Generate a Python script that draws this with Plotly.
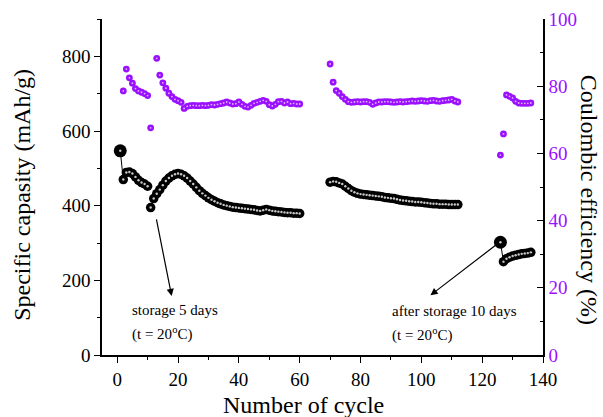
import plotly.graph_objects as go

# ---------------- data ----------------
cyc_s1 = list(range(1, 11))
cap_s1 = [547, 470, 489, 490, 486, 477, 468, 462, 458, 452]

cyc_s2 = list(range(11, 61))
cap_s2 = [395, 419, 432, 443, 455, 466, 474, 480, 484, 486,
          484, 480, 474, 466, 458, 449, 440, 433, 427, 421,
          416, 412, 408, 405, 402, 400, 398, 396, 395, 394,
          393, 392, 391, 390, 389, 387, 386, 388, 390, 388,
          386, 385, 384, 383, 382, 381, 381, 380, 380, 379]

cyc_s3 = list(range(70, 113))
cap_s3 = [463, 465, 464, 461, 458, 452, 446, 440, 436, 433,
          431, 430, 429, 428, 427, 426, 425, 424, 422, 421,
          420, 419, 417, 415, 414, 413, 412, 411, 410, 410,
          409, 408, 407, 406, 405, 405, 404, 404, 404, 403,
          403, 403, 403]

cyc_s4 = list(range(126, 137))
cap_s4 = [302, 250, 258, 262, 265, 267, 269, 271, 272, 273, 275]

ce_cyc_s1 = list(range(2, 11))
ce_s1 = [78.6, 85.1, 82.5, 80.9, 79.3, 78.6, 78.2, 77.8, 77.2]

ce_cyc_s2 = list(range(11, 61))
ce_s2 = [67.6, None, 88.3, 83.3, 81.0, 79.4, 77.9, 76.9, 76.1, 75.7,
         75.2, 73.4, 74.0, 74.2, 74.3, 74.2, 74.2, 74.3, 74.2, 74.3,
         74.5, 74.4, 74.6, 74.8, 75.0, 75.3, 75.0, 74.7, 74.8, 75.3,
         74.6, 74.0, 73.8, 74.3, 74.9, 75.2, 75.5, 75.8, 75.5, 74.5,
         74.1, 74.6, 75.4, 75.5, 75.0, 75.3, 74.8, 74.9, 74.7, 74.7]

ce_cyc_s3 = list(range(70, 113))
ce_s3 = [86.6, 81.2, 78.7, 77.9, 76.9, 76.1, 75.4, 75.2, 75.3, 75.4,
         75.3, 75.4, 75.4, 75.2, 74.6, 75.0, 75.3, 75.3, 75.4, 75.4,
         75.3, 75.2, 75.3, 75.4, 75.3, 75.4, 75.5, 75.6, 75.5, 75.6,
         75.7, 75.6, 75.5, 75.7, 75.8, 75.6, 75.5, 75.7, 75.8, 75.9,
         76.1, 75.6, 75.3]

ce_cyc_s4 = list(range(126, 137))
ce_s4 = [59.5, 65.8, 77.4, 77.0, 76.5, 75.5, 75.0, 74.9, 74.9, 74.9, 75.0]

x_ticks = [0, 20, 40, 60, 80, 100, 120, 140]
cap_ticks = [0, 200, 400, 600, 800]
ce_ticks = [0, 20, 40, 60, 80, 100]

# ---------------- build ----------------
def join(segs):
    out = []
    for i, s in enumerate(segs):
        if i:
            out.append(None)
        out.extend(s)
    return out

cap_x = join([cyc_s1, cyc_s2, cyc_s3, cyc_s4])
cap_y = join([cap_s1, cap_s2, cap_s3, cap_s4])
ce_x = join([ce_cyc_s1, ce_cyc_s2, ce_cyc_s3, ce_cyc_s4])
ce_y = join([ce_s1, ce_s2, ce_s3, ce_s4])

# the two "reference" (first-after-rest) points are drawn larger
big_x = [cyc_s1[0], cyc_s4[0]]
big_y = [cap_s1[0], cap_s4[0]]

FONT = "Liberation Serif, Times New Roman, serif"
PURPLE = "#9A10FF"

fig = go.Figure()
fig.add_trace(go.Scatter(
    x=cap_x, y=cap_y, mode="lines+markers", connectgaps=False,
    line=dict(color="black", width=1),
    marker=dict(color="black", size=9.5, line=dict(width=0)),
    hoverinfo="skip", showlegend=False))
fig.add_trace(go.Scatter(
    x=big_x, y=big_y, mode="markers",
    marker=dict(color="black", size=13, line=dict(width=0)),
    hoverinfo="skip", showlegend=False))
fig.add_trace(go.Scatter(
    x=cap_x, y=cap_y, mode="markers",
    marker=dict(color="#c8c8c8", size=2.4, line=dict(width=0)),
    hoverinfo="skip", showlegend=False))
fig.add_trace(go.Scatter(
    x=ce_x, y=ce_y, mode="markers", yaxis="y2",
    marker=dict(color=PURPLE, size=6.8, line=dict(width=0)),
    hoverinfo="skip", showlegend=False))
fig.add_trace(go.Scatter(
    x=ce_x, y=ce_y, mode="markers", yaxis="y2",
    marker=dict(color="#dcb0ff", size=1.8, line=dict(width=0)),
    hoverinfo="skip", showlegend=False))

axis_common = dict(showgrid=False, zeroline=False, showline=True,
                   linecolor="black", linewidth=1.5,
                   tickcolor="black", tickwidth=1.2)

fig.update_layout(
    width=603, height=417,
    margin=dict(l=102, r=60, t=19, b=62, autoexpand=False),
    paper_bgcolor="white", plot_bgcolor="white",
    font=dict(family=FONT, color="black", size=19),
    xaxis=dict(range=[-5, 140], tickvals=x_ticks, ticks="outside", ticklen=6,
               minor=dict(dtick=10, tick0=0, ticks="outside", ticklen=3,
                          tickcolor="black", tickwidth=1.2),
               tickfont=dict(size=19), **axis_common),
    xaxis2=dict(range=[-5, 140], matches="x", overlaying="x", side="top",
                anchor="y", tickvals=x_ticks, ticks="inside", ticklen=6,
                showticklabels=False,
                minor=dict(dtick=10, tick0=0, ticks="inside", ticklen=3,
                           tickcolor="black", tickwidth=1.2),
                **axis_common),
    yaxis=dict(range=[0, 900], tickvals=cap_ticks, ticks="outside", ticklen=6,
               minor=dict(dtick=100, tick0=0, ticks="outside", ticklen=3,
                          tickcolor="black", tickwidth=1.2),
               tickfont=dict(size=19), **axis_common),
    yaxis2=dict(range=[0, 100], tickvals=ce_ticks, overlaying="y", side="right",
                anchor="x", ticks="inside", ticklen=6,
                minor=dict(dtick=10, tick0=0, ticks="inside", ticklen=3,
                           tickcolor="black", tickwidth=1.2),
                tickfont=dict(size=19, color=PURPLE), **axis_common),
)

ann = [
    dict(text="Number of cycle", xref="paper", yref="paper", x=0.457, y=-0.149,
         xanchor="center", yanchor="middle", showarrow=False,
         font=dict(size=24, family=FONT)),
    dict(text="Specific capasity (mAh/g)", xref="paper", yref="paper",
         x=-0.182, y=0.476, xanchor="center", yanchor="middle", textangle=-90,
         showarrow=False, font=dict(size=24, family=FONT)),
    dict(text="Coulombic efficiency (%)", xref="paper", yref="paper",
         x=1.105, y=0.461, xanchor="center", yanchor="middle", textangle=90,
         showarrow=False, font=dict(size=24, family=FONT)),
    dict(text="storage 5 days", xref="x", yref="y", x=4.3, y=120,
         xanchor="left", yanchor="middle", showarrow=False,
         font=dict(size=15, family=FONT)),
    dict(text="(t = 20<sup>o</sup>C)", xref="x", yref="y", x=4.3, y=58,
         xanchor="left", yanchor="middle", showarrow=False,
         font=dict(size=15, family=FONT)),
    dict(text="after storage 10 days", xref="x", yref="y", x=89.7, y=118,
         xanchor="left", yanchor="middle", showarrow=False,
         font=dict(size=15, family=FONT)),
    dict(text="(t = 20<sup>o</sup>C)", xref="x", yref="y", x=89.7, y=56,
         xanchor="left", yanchor="middle", showarrow=False,
         font=dict(size=15, family=FONT)),
    dict(text="", xref="x", yref="y", axref="x", ayref="y",
         x=17.9, y=158, ax=12.8, ay=367, showarrow=True,
         arrowhead=2, arrowsize=1.2, arrowwidth=1.2, arrowcolor="black"),
    dict(text="", xref="x", yref="y", axref="x", ayref="y",
         x=103.0, y=160, ax=124.9, ay=297, showarrow=True,
         arrowhead=2, arrowsize=1.2, arrowwidth=1.2, arrowcolor="black"),
]
fig.update_layout(annotations=ann)

fig.write_html("out.html", config={"displayModeBar": False},
               post_script="document.body.style.margin='0';document.body.style.padding='0';")
